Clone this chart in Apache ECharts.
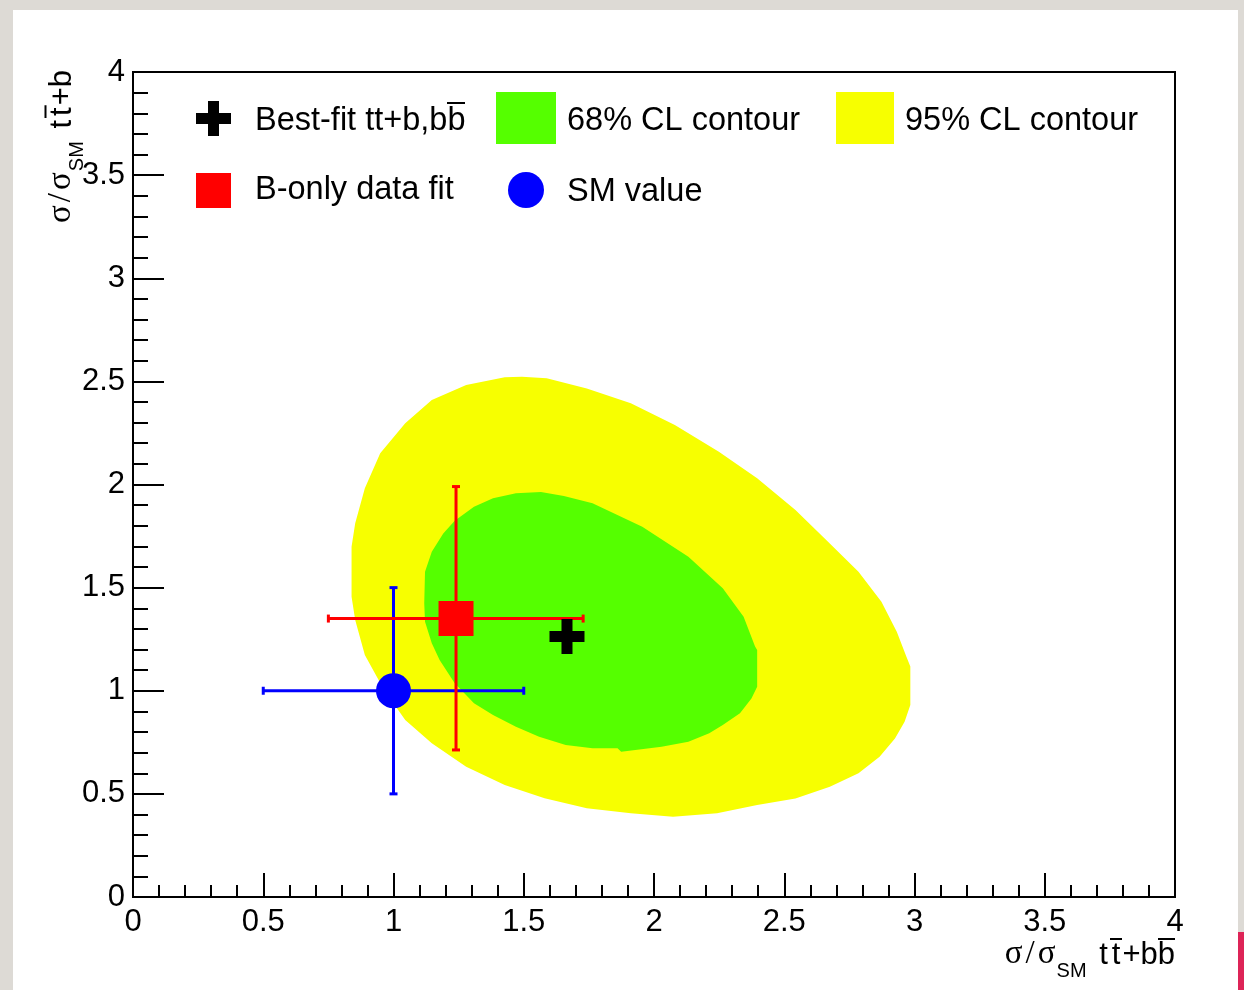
<!DOCTYPE html>
<html>
<head>
<meta charset="utf-8">
<title>Signal strength: ttb vs ttbb</title>
<script src="https://cdn.jsdelivr.net/npm/echarts@6/dist/echarts.min.js"></script>
<style>
  html, body { margin: 0; padding: 0; background: #dddad5; }
  #panel { position: absolute; left: 13px; top: 10px; width: 1225px; height: 980px; background: #ffffff; }
  #tab { position: absolute; left: 1238px; top: 932px; width: 6px; height: 58px; background: #dd2457; }
  #chart { position: absolute; left: 0; top: 0; width: 1244px; height: 990px; }
</style>
</head>
<body>
<div id="panel"></div>
<div id="tab"></div>
<div id="chart"></div>
<script>
// Axis tick labels (value axes, 0 .. 4 in steps of 0.5)
const X_TICK_LABELS = ['0', '0.5', '1', '1.5', '2', '2.5', '3', '3.5', '4'];
const Y_TICK_LABELS = ['0', '0.5', '1', '1.5', '2', '2.5', '3', '3.5', '4'];

// 95% CL contour outline, [sigma/sigma_SM ttbb, sigma/sigma_SM ttb]
const CONTOUR_95 = [
  [1.427, 2.520], [1.493, 2.523], [1.588, 2.515], [1.742, 2.466], [1.911, 2.394],
  [2.080, 2.288], [2.249, 2.159], [2.396, 2.030], [2.543, 1.876], [2.668, 1.723],
  [2.785, 1.577], [2.873, 1.432], [2.932, 1.286], [2.969, 1.165], [2.984, 1.117],
  [2.984, 0.931], [2.962, 0.850], [2.925, 0.769], [2.866, 0.680], [2.785, 0.600],
  [2.675, 0.535], [2.543, 0.478], [2.396, 0.446], [2.242, 0.406], [2.073, 0.389],
  [1.911, 0.406], [1.742, 0.430], [1.580, 0.479], [1.427, 0.543], [1.279, 0.632],
  [1.147, 0.745], [1.045, 0.858], [0.964, 1.004], [0.890, 1.173], [0.853, 1.343],
  [0.839, 1.456], [0.839, 1.698], [0.853, 1.812], [0.890, 1.982], [0.949, 2.151],
  [1.045, 2.297], [1.147, 2.410], [1.279, 2.482]
];

// 68% CL contour outline
const CONTOUR_68 = [
  [1.470, 1.957], [1.566, 1.964], [1.654, 1.944], [1.764, 1.909], [1.955, 1.795],
  [2.132, 1.650], [2.264, 1.497], [2.344, 1.359], [2.388, 1.214], [2.396, 1.198],
  [2.396, 1.020], [2.374, 0.963], [2.330, 0.891], [2.264, 0.834], [2.212, 0.794],
  [2.132, 0.753], [2.029, 0.729], [1.874, 0.704], [1.860, 0.721], [1.764, 0.721],
  [1.661, 0.737], [1.559, 0.777], [1.470, 0.826], [1.382, 0.882], [1.309, 0.939],
  [1.235, 1.036], [1.177, 1.149], [1.147, 1.230], [1.121, 1.335], [1.118, 1.424],
  [1.121, 1.577], [1.147, 1.674], [1.191, 1.763], [1.235, 1.824], [1.309, 1.892],
  [1.382, 1.933]
];

// Points
const BEST_FIT = [1.666, 1.263];
const B_ONLY = [1.24, 1.35];
const SM_VALUE = [1.0, 1.0];

// Error bars: [x, y, xLow, xHigh, yLow, yHigh]
const B_ONLY_ERR = [1.24, 1.35, 0.75, 1.728, 0.713, 1.99];
const SM_ERR = [1.0, 1.0, 0.5, 1.5, 0.5, 1.5];

// Legend entries
const NAME_BEST = 'Best-fit tt+b,bb\u0305';
const NAME_68 = '68% CL contour';
const NAME_95 = '95% CL contour';
const NAME_BONLY = 'B-only data fit';
const NAME_SM = 'SM value';

const COLOR_95 = '#f7ff00';
const COLOR_68 = '#55ff00';
const CROSS_PATH = 'path://M12,0 H23 V12 H35 V23 H23 V35 H12 V23 H0 V12 H12 Z';

const FONT = 'Liberation Sans, Arial, Helvetica, sans-serif';
const SERIF = 'Liberation Serif, Times New Roman, serif';

// Small bitmap with a bar along its top edge; used as a rich-text token
// background so that a letter gets an overline (anti-particle bar).
function overlineImage(height) {
  const c = document.createElement('canvas');
  c.width = 8;
  c.height = Math.round(height);
  const ctx = c.getContext('2d');
  ctx.fillStyle = '#000';
  ctx.fillRect(0, 0, 8, 2);
  return c;
}

function contourRenderer(points) {
  return function (params, api) {
    if (params.dataIndex !== 0) return null;
    return {
      type: 'polygon',
      shape: { points: points.map(p => api.coord(p)) },
      style: { fill: api.visual('color') }
    };
  };
}

function errorBarRenderer(params, api) {
  const x = api.value(0), y = api.value(1);
  const left = api.coord([api.value(2), y]);
  const right = api.coord([api.value(3), y]);
  const bottom = api.coord([x, api.value(4)]);
  const top = api.coord([x, api.value(5)]);
  const cap = 4;
  const style = { stroke: api.visual('color'), lineWidth: 3 };
  const line = (x1, y1, x2, y2) => ({ type: 'line', shape: { x1, y1, x2, y2 }, style });
  return {
    type: 'group',
    children: [
      line(left[0], left[1], right[0], right[1]),
      line(bottom[0], bottom[1], top[0], top[1]),
      line(left[0], left[1] - cap, left[0], left[1] + cap),
      line(right[0], right[1] - cap, right[0], right[1] + cap),
      line(top[0] - cap, top[1], top[0] + cap, top[1]),
      line(bottom[0] - cap, bottom[1], bottom[0] + cap, bottom[1])
    ]
  };
}

// Legend text: the trailing b of the best-fit label carries an overline
const LEGEND_FONT = 32.5;
const legendRich = {
  ob: {
    fontFamily: FONT, fontSize: LEGEND_FONT, color: '#000',
    padding: [3, 0, 3, 0],
    backgroundColor: { image: overlineImage(LEGEND_FONT + 6) }
  }
};

function legendEntry(name, icon, left, top, w, h, gap, dy) {
  return {
    data: [{ name: name, icon: icon }],
    left: left, top: top, padding: 0,
    itemWidth: w, itemHeight: h,
    selectedMode: false,
    formatter: n => n === NAME_BEST ? 'Best-fit tt+b,b{ob|b}' : n,
    textStyle: {
      fontFamily: FONT, fontSize: LEGEND_FONT, color: '#000',
      padding: [dy, 0, 0, gap],
      rich: legendRich
    }
  };
}

const tickLabel = labels => v => labels[Math.round(v / 0.5)];

const axisCommon = {
  type: 'value', min: 0, max: 4, interval: 0.5,
  axisLine: { show: true, onZero: false, lineStyle: { color: '#000', width: 2 } },
  splitLine: { show: false },
  minorSplitLine: { show: false }
};

// Axis title tokens: sigma ratio in serif, SM subscript, process in sans
function titleRich(fs, lift) {
  const base = { fontFamily: FONT, fontSize: fs, verticalAlign: 'bottom', padding: [0, 0, lift, 0] };
  return {
    sg: { fontFamily: SERIF, fontSize: fs + 2, verticalAlign: 'bottom', padding: [0, 0, lift, 0] },
    sl: { fontFamily: SERIF, fontSize: fs + 2, verticalAlign: 'bottom', padding: [0, 3, lift, 3] },
    sub: { fontFamily: FONT, fontSize: 20, verticalAlign: 'bottom', padding: [0, 2, 0, 1] },
    m: base,
    t: Object.assign({}, base, { padding: [0, 2, lift, 2] }),
    tb: Object.assign({}, base, {
      padding: [2, 2, lift, 2],
      backgroundColor: { image: overlineImage(fs + 2 + lift) }
    }),
    bb: Object.assign({}, base, {
      padding: [2, 0, lift, 0],
      backgroundColor: { image: overlineImage(fs + 2 + lift) }
    })
  };
}

const chart = echarts.init(document.getElementById('chart'), null, { renderer: 'canvas' });

chart.setOption({
  backgroundColor: 'transparent',
  animation: false,
  grid: {
    left: 133, top: 72, width: 1042, height: 825,
    containLabel: false, outerBoundsMode: 'none',
    show: true, borderColor: '#000', borderWidth: 2, backgroundColor: 'transparent'
  },
  xAxis: Object.assign({}, axisCommon, {
    axisTick: { inside: true, length: 24, lineStyle: { color: '#000', width: 2 } },
    minorTick: { show: true, splitNumber: 5, length: 12, lineStyle: { color: '#000', width: 2 } },
    axisLabel: { formatter: tickLabel(X_TICK_LABELS), fontFamily: FONT, fontSize: 31, color: '#000', margin: 10 }
  }),
  yAxis: Object.assign({}, axisCommon, {
    axisTick: { inside: true, length: 31, lineStyle: { color: '#000', width: 2 } },
    minorTick: { show: true, splitNumber: 5, length: 15, lineStyle: { color: '#000', width: 2 } },
    axisLabel: { formatter: tickLabel(Y_TICK_LABELS), fontFamily: FONT, fontSize: 31, color: '#000', margin: 8 }
  }),
  legend: [
    legendEntry(NAME_BEST, CROSS_PATH, 196, 101, 35, 35, 19, 6),
    legendEntry(NAME_68, 'rect', 496, 92, 60, 52, 6, 6),
    legendEntry(NAME_95, 'rect', 836, 92, 58, 52, 6, 6),
    legendEntry(NAME_BONLY, 'rect', 196, 173, 35, 35, 19, 0),
    legendEntry(NAME_SM, 'circle', 508, 172, 36, 36, 18, 4)
  ],
  graphic: [
    {
      type: 'text', right: 69, top: 938, silent: true,
      style: {
        text: '{sg|σ}{sl|/}{sg|σ}{sub|SM}{m| }{t|t}{tb|t}{m|+b}{bb|b}',
        fill: '#000',
        rich: titleRich(31, 10)
      }
    },
    {
      type: 'text', x: 66, y: 70, rotation: Math.PI / 2, silent: true,
      style: {
        text: '{sg|σ}{sl|/}{sg|σ}{sub|SM}{m| }{t|t}{tb|t}{m|+b}',
        fill: '#000', align: 'right', verticalAlign: 'middle',
        rich: titleRich(31, 10)
      }
    }
  ],
  series: [
    {
      name: NAME_95, type: 'custom', clip: true,
      itemStyle: { color: COLOR_95 },
      renderItem: contourRenderer(CONTOUR_95),
      data: CONTOUR_95, z: 1
    },
    {
      name: NAME_68, type: 'custom', clip: true,
      itemStyle: { color: COLOR_68 },
      renderItem: contourRenderer(CONTOUR_68),
      data: CONTOUR_68, z: 2
    },
    {
      name: 'SM uncertainty', type: 'custom',
      itemStyle: { color: '#0000ff' },
      renderItem: errorBarRenderer,
      data: [SM_ERR], z: 3
    },
    {
      name: 'B-only uncertainty', type: 'custom',
      itemStyle: { color: '#ff0000' },
      renderItem: errorBarRenderer,
      data: [B_ONLY_ERR], z: 4
    },
    {
      name: NAME_BEST, type: 'scatter', symbol: CROSS_PATH, symbolSize: 35,
      itemStyle: { color: '#000', opacity: 1 }, data: [BEST_FIT], z: 5
    },
    {
      name: NAME_BONLY, type: 'scatter', symbol: 'rect', symbolSize: 35,
      itemStyle: { color: '#ff0000', opacity: 1 }, data: [B_ONLY], z: 5
    },
    {
      name: NAME_SM, type: 'scatter', symbol: 'circle', symbolSize: 35,
      itemStyle: { color: '#0000ff', opacity: 1 }, data: [SM_VALUE], z: 5
    }
  ]
});
</script>
</body>
</html>
